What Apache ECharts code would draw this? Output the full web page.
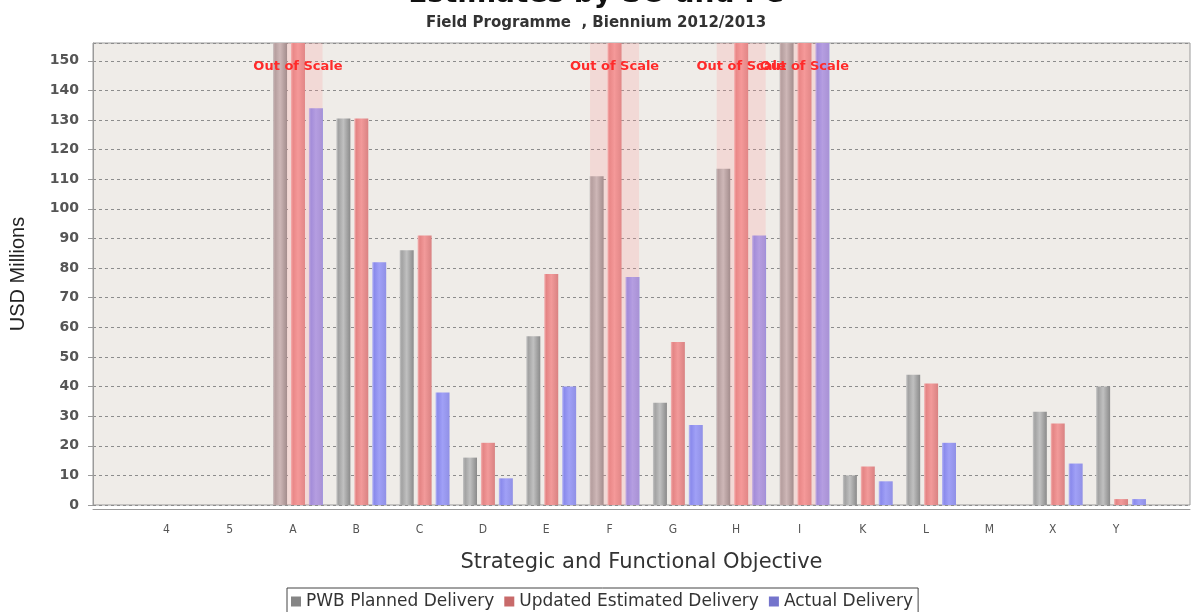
<!DOCTYPE html>
<html>
<head>
<meta charset="utf-8">
<script src="https://cdn.jsdelivr.net/npm/echarts@6/dist/echarts.min.js"></script>
<style>html,body{margin:0;padding:0;background:#fff;}#c{width:1192px;height:612px;}</style>
</head>
<body>
<div id="c"></div>
<script>
// ---- data ----
const categories = ['4','5','A','B','C','D','E','F','G','H','I','K','L','M','X','Y'];
const AXIS_MAX = 156; // top of visible scale; out-of-scale values are shown at the top
const planned   = [0, 0, 156, 130.5, 86, 16, 57, 111, 34.5, 113.5, 156, 10, 44, 0, 31.5, 40];
const updated   = [0, 0, 156, 130.5, 91, 21, 78, 156, 55, 156, 156, 13, 41, 0, 27.5, 2];
const actual    = [0, 0, 134, 82, 38, 9, 40, 77, 27, 91, 156, 8, 21, 0, 14, 2];
const outOfScale = [false,false,true,false,false,false,false,true,false,true,true,false,false,false,false,false];
const yTicks = {min: 0, max: AXIS_MAX, interval: 10};
const seriesNames = ['PWB Planned Delivery','Updated Estimated Delivery','Actual Delivery'];

const chart = echarts.init(document.getElementById('c'), null, {renderer: 'canvas'});

function grad(c0, c1, c2, c3) {
  return new echarts.graphic.LinearGradient(0, 0, 1, 0, [
    {offset: 0, color: c0}, {offset: 0.15, color: c1}, {offset: 0.5, color: c2}, {offset: 1, color: c3}
  ]);
}
const fills = [
  grad('#c4c4c4', '#a2a2a2', '#c0c0c0', '#8a8a8a'),
  grad('#f4b4b4', '#e48484', '#f29a9a', '#d98282'),
  grad('#b8b8f4', '#8a8aec', '#a0a0f6', '#9090e6')
];
const legendColors = ['#858585', '#c86a6a', '#7474cc'];

const gridTop = 43, gridBottom = 612 - 505;

const option = {
  animation: false,
  backgroundColor: '#ffffff',
  title: [
    {text: 'Estimates by SO and FC', left: 'center', top: -24,
     textStyle: {fontFamily: 'DejaVu Sans', fontWeight: 'bold', fontSize: 28, color: '#111'}},
    {text: 'Field Programme  , Biennium 2012/2013', left: 'center', top: 11,
     textStyle: {fontFamily: 'DejaVu Sans', fontWeight: 'bold', fontSize: 15, color: '#333'}}
  ],
  legend: {
    left: 287, top: 588,
    data: seriesNames.map((n, i) => ({name: n, itemStyle: {color: legendColors[i]}})),
    icon: 'rect', itemWidth: 10, itemHeight: 10, itemGap: 10,
    borderColor: '#444', borderWidth: 1, backgroundColor: '#fff',
    padding: [5, 5, 8, 4],
    textStyle: {fontFamily: 'DejaVu Sans', fontSize: 17, color: '#333', padding: [0, 0, 0, 0]}
  },
  grid: [
    {left: 90, right: 2, top: gridTop, bottom: gridBottom, show: true,
     backgroundColor: '#efece8', borderColor: '#9a9a9a', borderWidth: 1},
    {left: 139.7, right: 39.3, top: gridTop, bottom: gridBottom}
  ],
  xAxis: [
    {gridIndex: 0, type: 'value', min: 0, max: 1, show: true,
     axisLine: {show: true, onZero: false, lineStyle: {color: '#9a9a9a', width: 1}},
     axisTick: {show: false}, axisLabel: {show: false}, splitLine: {show: false}, offset: 4,
     name: 'Strategic and Functional Objective', nameLocation: 'middle', nameGap: 43,
     nameTextStyle: {fontFamily: 'DejaVu Sans', fontSize: 21, color: '#333'}},
    {gridIndex: 1, type: 'category', data: categories,
     axisLine: {show: false}, axisTick: {show: false},
     axisLabel: {fontFamily: 'DejaVu Sans Condensed', fontSize: 12, color: '#555', margin: 19, padding: [0, 10, 0, 0]}},
    {gridIndex: 1, type: 'category', data: categories, show: false}
  ],
  yAxis: [
    {gridIndex: 0, type: 'value', min: yTicks.min, max: yTicks.max, interval: yTicks.interval,
     offset: 6,
     axisLine: {show: true, lineStyle: {color: '#9a9a9a'}},
     axisTick: {show: true, length: 5, lineStyle: {color: '#9a9a9a'}},
     axisLabel: {fontFamily: 'DejaVu Sans', fontWeight: 'bold', fontSize: 14, color: '#555', margin: 8, showMaxLabel: false},
     splitLine: {show: true, lineStyle: {color: '#8c8c8c', type: [3, 3], width: 1}},
     name: 'USD Millions', nameLocation: 'middle', nameGap: 59, nameRotate: 90,
     nameTextStyle: {fontFamily: 'Liberation Sans', fontSize: 20, color: '#222'}},
    {gridIndex: 1, type: 'value', min: yTicks.min, max: yTicks.max, show: false}
  ],
  series: [
    ...[planned, updated, actual].map((vals, i) => ({
      name: seriesNames[i], type: 'bar', xAxisIndex: 1, yAxisIndex: 1,
      data: vals, barWidth: 14, barGap: '28%',
      itemStyle: {color: fills[i]}, clip: true, z: 2
    })),
    {
      name: 'outOfScale', type: 'bar', xAxisIndex: 2, yAxisIndex: 1,
      data: outOfScale.map(f => f ? AXIS_MAX : '-'),
      barWidth: 49, itemStyle: {color: 'rgba(255,150,150,0.22)'}, z: 3,
      silent: true, legendHoverLink: false,
      label: {show: true, position: 'insideTop', distance: 17, formatter: 'Out of Scale',
              fontFamily: 'DejaVu Sans', fontWeight: 'bold', fontSize: 13, color: '#ff2a2a'}
    }
  ]
};
chart.setOption(option);
</script>
</body>
</html>
